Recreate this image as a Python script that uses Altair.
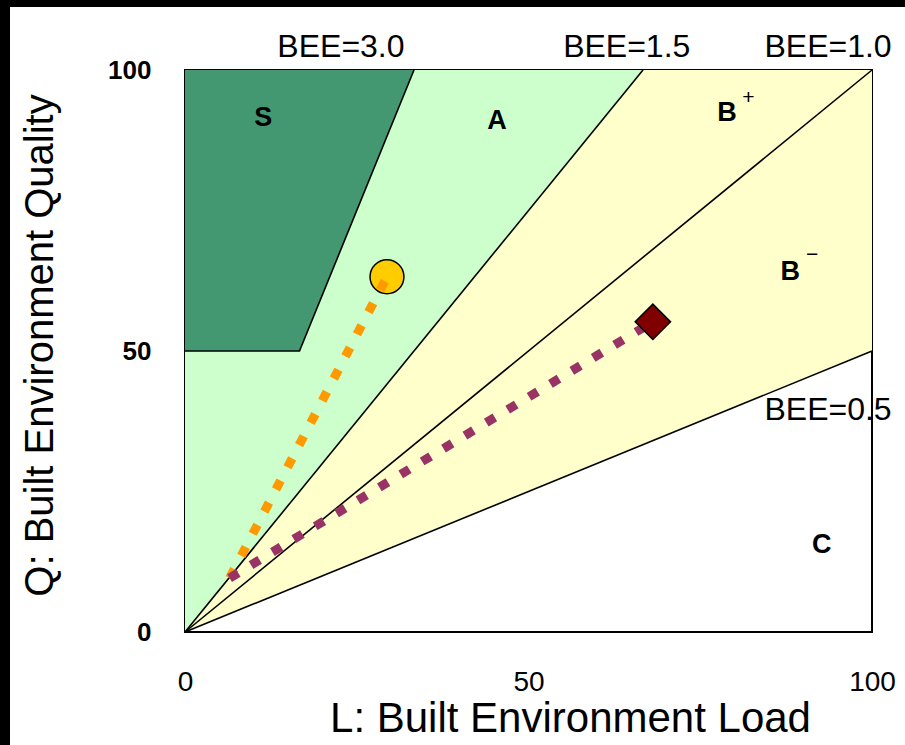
import altair as alt
import pandas as pd

# ---- rating bands (L: load, Q: quality, 0-100) ----
band_B_L = [0, 66.667, 100]
band_B_low = [0, 33.333, 50]
band_B_high = [0, 100, 100]
band_A_L = [0, 66.667]
band_A_low = [0, 100]
band_A_high = [100, 100]
band_S_L = [0, 16.667, 33.333]
band_S_low = [50, 50, 100]
band_S_high = [100, 100, 100]

# ---- boundary lines ----
line_names = ["1.5", "1.5", "1.0", "1.0", "0.5", "0.5", "S", "S", "S"]
line_L = [0, 66.667, 0, 100, 0, 100, 0, 16.667, 33.333]
line_Q = [0, 100, 0, 100, 0, 50, 50, 50, 100]
line_order = [0, 1, 0, 1, 0, 1, 0, 1, 2]

# ---- buildings ----
bldg_names = ["b1", "b2"]
origin_L = [6.5, 6.5]
origin_Q = [9.6, 9.6]
result_L = [29.4, 68.1]
result_Q = [63.2, 55.2]

# ---- labels ----
grade_text = ["S", "A", "B", "B", "C"]
grade_L = [11.4, 45.4, 78.9, 88.1, 92.7]
grade_Q = [91.5, 90.9, 92.3, 64.0, 15.5]
sup_text = ["+", "\u2212"]
sup_L = [82.0, 91.3]
sup_Q = [95.0, 67.0]
bee_text = ["BEE=3.0", "BEE=1.5", "BEE=1.0", "BEE=0.5"]
bee_L = [22.7, 64.3, 93.6, 93.6]
bee_Q = [104.1, 104.1, 104.1, 39.5]

xscale = alt.Scale(domain=[0, 100], nice=False, zero=False)
yscale = alt.Scale(domain=[0, 100], nice=False, zero=False)
xaxis = alt.Axis(values=[0, 50, 100], domain=False, ticks=False, grid=False,
                 labelFontSize=28, labelFont="Liberation Sans", labelColor="black",
                 labelPadding=36, labelFlush=False, labelOverlap=False,
                 title="L: Built Environment Load",
                 titleFont="Liberation Sans", titleFontSize=42, titleFontWeight="normal",
                 titleColor="black", titleX=385, titleY=99, titleBaseline="alphabetic",
                 titleAlign="center")
yaxis = alt.Axis(values=[0, 50, 100], domain=False, ticks=False, grid=False,
                 labelFontSize=26, labelFont="Liberation Sans", labelFontWeight="bold",
                 labelColor="black", labelPadding=34, labelFlush=False, labelOverlap=False,
                 title="Q: Built Environment Quality",
                 titleFont="Liberation Sans", titleFontSize=40, titleFontWeight="normal",
                 titleColor="black", titleX=-133, titleY=275, titleAngle=-90,
                 titleBaseline="alphabetic", titleAlign="center")

X = alt.X("L:Q", scale=xscale, axis=xaxis)
Y = alt.Y("Q:Q", scale=yscale, axis=yaxis)


def band(L, low, high, color):
    df = pd.DataFrame({"L": L, "Q": low, "Q2": high})
    return alt.Chart(df).mark_area(color=color, opacity=1, interpolate="linear").encode(
        x=X, y=Y, y2="Q2:Q")


bandB = band(band_B_L, band_B_low, band_B_high, "#ffffcc")
bandA = band(band_A_L, band_A_low, band_A_high, "#ccffcc")
bandS = band(band_S_L, band_S_low, band_S_high, "#449871")

lines_df = pd.DataFrame({"name": line_names, "L": line_L, "Q": line_Q, "o": line_order})
lines = alt.Chart(lines_df).mark_line(color="black", strokeWidth=1.6).encode(
    x=X, y=Y, detail="name:N", order="o:Q")

path_rows = []
for n, l0, q0, l1, q1 in zip(bldg_names, origin_L, origin_Q, result_L, result_Q):
    path_rows.append({"name": n, "L": l0, "Q": q0, "o": 0})
    path_rows.append({"name": n, "L": l1, "Q": q1, "o": 1})
path_df = pd.DataFrame(path_rows)
paths = alt.Chart(path_df).mark_line(strokeWidth=9, strokeDash=[10, 15], strokeCap="butt").encode(
    x=X, y=Y, detail="name:N", order="o:Q",
    color=alt.Color("name:N", scale=alt.Scale(domain=bldg_names, range=["#ff9900", "#993366"]),
                    legend=None))

res_df = pd.DataFrame({"name": bldg_names, "L": result_L, "Q": result_Q})
circ = alt.Chart(res_df).transform_filter(alt.datum.name == "b1").mark_point(
    shape="circle", filled=True, fill="#ffcc00", stroke="black", strokeWidth=1.5,
    size=1150, opacity=1).encode(x=X, y=Y)
diam = alt.Chart(res_df).transform_filter(alt.datum.name == "b2").mark_point(
    shape="diamond", filled=True, fill="#800000", stroke="black", strokeWidth=1.5,
    size=1250, opacity=1).encode(x=X, y=Y)

grade_df = pd.DataFrame({"t": grade_text, "L": grade_L, "Q": grade_Q})
grades = alt.Chart(grade_df).mark_text(font="Liberation Sans", fontSize=27, fontWeight="bold",
                                       color="black").encode(x=X, y=Y, text="t:N")
sup_df = pd.DataFrame({"t": sup_text, "L": sup_L, "Q": sup_Q})
sups = alt.Chart(sup_df).mark_text(font="Liberation Sans", fontSize=21, color="black").encode(
    x=X, y=Y, text="t:N")
bee_df = pd.DataFrame({"t": bee_text, "L": bee_L, "Q": bee_Q})
bees = alt.Chart(bee_df).mark_text(font="Liberation Sans", fontSize=32, color="black").encode(
    x=X, y=Y, text="t:N")

# decorative black strips at the page's top and left edges
strip_df = pd.DataFrame({"k": [0]})
top_strip = alt.Chart(strip_df).mark_rect(color="black").encode(
    x=alt.value(-185), x2=alt.value(720), y=alt.value(-70), y2=alt.value(-63))
left_strip = alt.Chart(strip_df).mark_rect(color="black").encode(
    x=alt.value(-185), x2=alt.value(-175), y=alt.value(-70), y2=alt.value(675))

chart = alt.layer(bandB, bandA, bandS, lines, circ, paths, diam, grades, sups, bees,
                  top_strip, left_strip).properties(
    width=687, height=562, autosize="none",
    padding={"left": 185, "top": 70, "right": 33, "bottom": 113},
    background="white"
).configure_view(stroke="black", strokeWidth=2)

chart.save("out.html", embed_options={"renderer": "svg", "actions": False})
